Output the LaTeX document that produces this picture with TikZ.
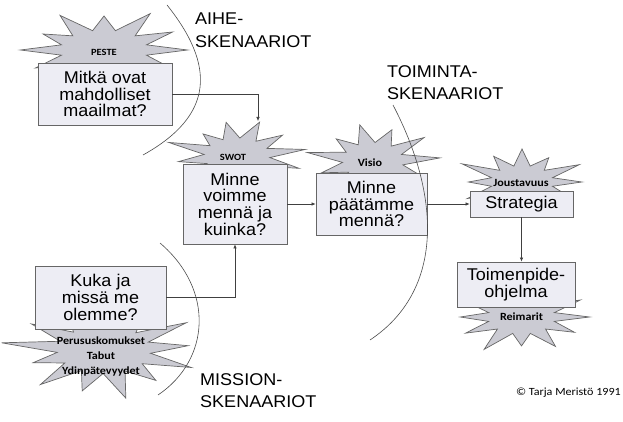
\documentclass[tikz,border=0pt]{standalone}
\usepackage{fontspec}
\setmainfont{Liberation Sans}[FakeStretch=1.06]
\newfontfamily\tagfont{Carlito}[FakeStretch=1.1]
\usetikzlibrary{arrows.meta,positioning}
\definecolor{boxfill}{HTML}{EDEDF4}
\definecolor{burstfill}{HTML}{CBCBD3}
\definecolor{edgegray}{HTML}{666666}
% star: centre, x radius, y radius, points, turn, spike lengths
\newcommand\burst[6]{%
  \pgfmathsetmacro\rxin{#2*0.5}%
  \pgfmathsetmacro\ryin{#3*0.5}%
  \filldraw[spike] ([shift={#1}]#5:{\rxin} and {\ryin})
    \foreach \f [count=\i, evaluate=\i as \aout using #5+(\i-0.5)*360/#4,
                 evaluate=\i as \ain using #5+\i*360/#4,
                 evaluate=\f as \rxout using #2*\f, evaluate=\f as \ryout using #3*\f] in {#6} {
      -- ([shift={#1}]\aout:{\rxout} and {\ryout})
      -- ([shift={#1}]\ain:{\rxin} and {\ryin})
    } -- cycle;}
\begin{document}
\begin{tikzpicture}[x=1pt, y=-1pt, >={Latex[length=4pt,width=3.5pt]},
    question/.style = {draw=edgegray, fill=boxfill, line width=0.8pt, rectangle, align=center, inner sep=0pt,
        font=\fontsize{17}{16.7}\selectfont},
    spike/.style = {draw=edgegray, fill=burstfill, line width=0.7pt, line join=miter},
    tag/.style = {inner sep=0pt, align=center, font=\tagfont\bfseries\fontsize{11}{15}\selectfont},
    zone/.style = {align=left, inner sep=0pt, anchor=north west, font=\fontsize{17}{22.5}\selectfont},
    flow/.style = {->, draw=black!75, line width=0.6pt},
    border/.style = {draw=black!70, line width=0.6pt}]
    \useasboundingbox (0,0) rectangle (623,422);
    % stars behind the boxes
    \burst{(104,50)}{88}{40}{12}{-15}{0.95,0.85,1,0.8,1.05,0.9,0.95,0.8,1,0.85,1.05,0.9}
    \burst{(237,156)}{66}{36}{12}{5}{1,0.9,1.05,0.85,1,0.9,1.1,0.8,0.95,1,0.9,1.05}
    \burst{(373,161)}{61}{37}{11}{12}{0.95,1.05,0.85,1,0.9,1.1,0.85,1,0.9,1.05,1.1}
    \burst{(522,182)}{63}{33}{12}{-15}{0.95,0.85,1.05,0.95,0.9,1,0.85,1.1,0.9,1,0.85,1.05}
    \burst{(521.5,317)}{68}{34}{12}{-15}{1,0.9,1,0.85,1.1,0.95,0.9,1,0.85,1.05,0.9,1}
    \burst{(104,350)}{94}{47}{13}{8}{1,0.85,1.05,0.9,1,0.8,1.1,0.95,0.85,1,0.9,1.05,0.9}
    \node [tag, font=\tagfont\bfseries\fontsize{9.5}{11}\selectfont] (peste_tag) at (104,52) {PESTE};
    \node [tag, font=\tagfont\bfseries\fontsize{9.5}{11}\selectfont] (swot_tag) at (233,157) {SWOT};
    \node [tag] (visio_tag) at (370,163) {Visio};
    \node [tag] (joust_tag) at (521,183) {Joustavuus};
    \node [tag] (reim_tag) at (521.5,317) {Reimarit};
    \node [tag] (perus_tag) at (101,357) {Perususkomukset\\Tabut\\Ydinpätevyydet};
    % question boxes
    \node [question, minimum width=134pt, minimum height=62pt] (peste_box) at (105,94) {Mitkä ovat\\mahdolliset\\maailmat?};
    \node [question, minimum width=104pt, minimum height=80pt] (swot_box) at (235,204) {Minne\\voimme\\mennä ja\\kuinka?};
    \node [question, minimum width=111pt, minimum height=62pt] (visio_box) at (371.5,204) {Minne\\päätämme\\mennä?};
    \node [question, minimum width=103pt, minimum height=26pt] (strat_box) at (521.5,204) {Strategia};
    \node [question, minimum width=118pt, minimum height=45pt] (toim_box) at (516,284.5) {Toimenpide-\\ohjelma};
    \node [question, minimum width=131pt, minimum height=63pt] (kuka_box) at (100.5,297.5) {Kuka ja\\missä me\\olemme?};
    % arrows
    \coordinate (swot_tip) at (258,121);
    \draw[flow] (peste_box.east) -| (swot_tip);
    \draw[flow] (kuka_box.east) -| (swot_box.south);
    \draw[flow] (swot_box) -- (visio_box);
    \draw[flow] (visio_box) -- (strat_box);
    \draw[flow] (strat_box.south) -- (strat_box.south |- toim_box.north);
    % scenario borders
    \draw[border] (167,5) .. controls (215,65) and (215,115) .. (143,155);
    \draw[border] (393,105) .. controls (440,195) and (445,290) .. (370,340);
    \draw[border] (160,243) .. controls (215,290) and (210,360) .. (158,395);
    \node [zone] (aihe_label) at (195,13) {AIHE-\\SKENAARIOT};
    \node [zone] (toim_label) at (387,65) {TOIMINTA-\\SKENAARIOT};
    \node [zone] (mission_label) at (200,373) {MISSION-\\SKENAARIOT};
    \node [anchor=east, inner sep=0pt, font=\tagfont\fontsize{11}{13}\selectfont] (credit) at (621,393) {© Tarja Meristö 1991};
\end{tikzpicture}
\end{document}
